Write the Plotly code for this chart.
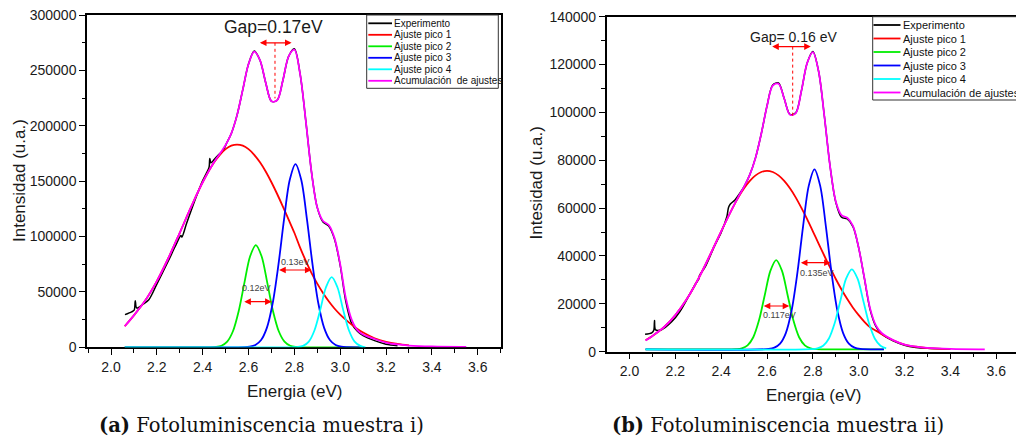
import plotly.graph_objects as go

# ---------------- data: muestra i) ----------------
a_exp_x = [2.061, 2.09, 2.101, 2.106, 2.112, 2.14, 2.165, 2.20, 2.25, 2.28, 2.305, 2.309, 2.33, 2.374,
           2.40, 2.418, 2.428, 2.431, 2.436, 2.45, 2.47, 2.49, 2.505, 2.525, 2.55, 2.575, 2.60, 2.625,
           2.65, 2.675, 2.70, 2.725, 2.75, 2.775, 2.80, 2.825, 2.85, 2.875, 2.90, 2.925, 2.95, 2.975,
           3.00, 3.025, 3.05, 3.075, 3.10, 3.15, 3.20, 3.25]
a_exp_y = [29500, 32000, 33500, 42000, 35500, 39000, 43000, 57000, 78000, 91000, 101000, 99500, 112000, 137000,
           150500, 158000, 162500, 170500, 166500, 169500, 174000, 178000, 184500, 193100, 209600, 232600, 255700, 267500,
           259150, 238900, 222200, 223000, 241100, 262700, 269500, 246800, 204200, 157900, 126100, 113000, 109400, 97800,
           74000, 41000, 21500, 14500, 10500, 6000, 2800, 1500]

a_grid = [2.06, 2.10, 2.15, 2.20, 2.25, 2.30, 2.35, 2.40, 2.45, 2.475, 2.50, 2.525, 2.55, 2.575, 2.60,
          2.625, 2.65, 2.675, 2.70, 2.725, 2.75, 2.775, 2.80, 2.825, 2.85, 2.875, 2.90, 2.925, 2.95,
          2.975, 3.00, 3.025, 3.05, 3.075, 3.10, 3.15, 3.20, 3.25, 3.30, 3.40, 3.55]
a_pico1_y = [19000, 28800, 42400, 59700, 80400, 103400, 127000, 149000, 167000, 173800, 178900, 182000, 183000,
             182000, 178900, 173800, 167000, 158700, 149000, 138400, 127000, 115300, 103400, 90000, 78000, 67000,
             57500, 49000, 41500, 35000, 29500, 24800, 20500, 16600, 13300, 8200, 5000, 3000, 1700, 500, 100]
a_sum_y = [19000, 28800, 42400, 59700, 80400, 103400, 127000, 149000, 167200, 174800, 182600, 193100, 209600,
           232600, 255700, 266900, 259200, 238900, 222200, 223000, 241100, 262700, 268700, 246800, 204200, 157900,
           126100, 114000, 110400, 98800, 75100, 44000, 25000, 15500, 11500, 7500, 4300, 2600, 1600, 700, 300]

a_pico2_x = [2.06, 2.432, 2.457, 2.482, 2.507, 2.532, 2.557, 2.582, 2.607, 2.632, 2.657, 2.682, 2.707,
             2.732, 2.757, 2.782, 2.807, 2.832, 3.10]
a_pico2_y = [0, 0, 320, 1440, 5130, 14500, 32600, 58100, 82200, 92300, 82200, 58100, 32600,
             14500, 5130, 1440, 320, 0, 0]

a_pico3_x = [2.06, 2.58, 2.605, 2.63, 2.655, 2.68, 2.705, 2.73, 2.755, 2.78, 2.805, 2.83, 2.855,
             2.88, 2.905, 2.93, 2.955, 2.98, 3.005, 3.03, 3.10]
a_pico3_y = [0, 115, 530, 2030, 6530, 17500, 39300, 73700, 115500, 151200, 165400, 151200, 115500,
             73700, 39300, 17500, 6530, 2030, 530, 115, 0]

a_pico4_x = [2.06, 2.788, 2.813, 2.838, 2.863, 2.888, 2.913, 2.938, 2.963, 2.988, 3.013, 3.038,
             3.063, 3.088, 3.11]
a_pico4_y = [0, 0, 220, 1250, 5130, 15400, 33800, 54200, 63400, 54200, 33800, 15400, 5130, 1250, 0]

# ---------------- data: muestra ii) ----------------
b_exp_x = [2.068, 2.097, 2.106, 2.109, 2.114, 2.14, 2.184, 2.22, 2.26, 2.29, 2.303, 2.306, 2.33, 2.37,
           2.40, 2.425, 2.432, 2.44, 2.46, 2.48, 2.50, 2.525, 2.55, 2.575, 2.60, 2.625, 2.65, 2.675,
           2.70, 2.725, 2.75, 2.775, 2.80, 2.825, 2.85, 2.875, 2.90, 2.925, 2.95, 2.975, 3.00, 3.025,
           3.05, 3.075, 3.10, 3.15, 3.20, 3.25, 3.30, 3.40]
b_exp_y = [7300, 7900, 9000, 13000, 9100, 9200, 12500, 16800, 23500, 28600, 30500, 32000, 35400, 44000,
           49800, 56500, 60300, 61700, 63400, 66000, 69000, 74000, 81100, 91100, 102700, 111500, 112300, 105800,
           99200, 99800, 109000, 120600, 125500, 117200, 98600, 77600, 62500, 56200, 55500, 52300, 43400, 30500,
           17500, 10600, 7400, 4500, 2700, 1800, 1400, 1100]

b_grid = [2.07, 2.10, 2.15, 2.20, 2.25, 2.30, 2.35, 2.40, 2.45, 2.475, 2.50, 2.525, 2.55, 2.575, 2.60,
          2.625, 2.65, 2.675, 2.70, 2.725, 2.75, 2.775, 2.80, 2.825, 2.85, 2.875, 2.90, 2.925, 2.95,
          2.975, 3.00, 3.025, 3.05, 3.075, 3.10, 3.15, 3.20, 3.25, 3.30, 3.40, 3.55]
b_pico1_y = [4800, 6600, 10200, 15300, 22000, 30400, 40100, 50300, 60100, 64500, 68300, 71400, 73700, 75100,
             75600, 75100, 73700, 71400, 68300, 64500, 60100, 55400, 50300, 45200, 40100, 35200, 30400, 26000,
             22000, 18400, 15300, 12500, 10200, 8800, 7300, 4800, 3000, 2100, 1500, 1150, 1000]
b_sum_y = [4700, 6600, 10200, 15300, 22000, 30400, 40100, 50300, 60100, 64700, 69000, 74000, 81100, 91100,
           102700, 111200, 112000, 105800, 99000, 99600, 109000, 120600, 125200, 117200, 98600, 77600, 62800,
           57100, 56000, 52600, 43400, 30700, 18000, 11000, 7800, 4850, 3000, 2100, 1600, 1200, 1000]

b_pico2_x = [2.07, 2.44, 2.465, 2.49, 2.515, 2.54, 2.565, 2.59, 2.615, 2.64, 2.665, 2.69, 2.715, 2.74,
             2.765, 2.79, 2.815, 2.84, 3.11]
b_pico2_y = [1000, 1000, 1080, 1400, 2640, 6050, 13100, 23600, 33900, 38300, 33900, 23600, 13100, 6050,
             2640, 1400, 1080, 1000, 1000]

b_pico3_x = [2.07, 2.607, 2.632, 2.657, 2.682, 2.707, 2.732, 2.757, 2.782, 2.807, 2.832, 2.857, 2.882,
             2.907, 2.932, 2.957, 2.982, 3.007, 3.11]
b_pico3_y = [1000, 1160, 1675, 3360, 7790, 17100, 32600, 52200, 69300, 76200, 69300, 52200, 32600,
             17100, 7790, 3360, 1675, 1160, 1000]

b_pico4_x = [2.07, 2.795, 2.82, 2.845, 2.87, 2.895, 2.92, 2.945, 2.97, 2.995, 3.02, 3.045, 3.07, 3.095, 3.12]
b_pico4_y = [1000, 1070, 1370, 2470, 5520, 11850, 21300, 30500, 34400, 30500, 21300, 11850, 5520, 2470, 1370]

series_names = ["Experimento", "Ajuste pico 1", "Ajuste pico 2", "Ajuste pico 3", "Ajuste pico 4",
                "Acumulación de ajustes"]
series_colors = ["#000000", "#ff0000", "#00ee00", "#0000ff", "#00ffff", "#ff00ff"]

# ---------------- figure ----------------
W, H = 1016, 439
SANS = "Arial, 'Liberation Sans', sans-serif"


def px(x):
    return x / W


def py(y):
    # vertical page position (pixels from the top) -> paper fraction
    return 1 - (y - 8) / 423


fig = go.Figure()

panels = [
    ("x", "y", [(a_exp_x, a_exp_y), (a_grid[:-2], a_pico1_y[:-2]), (a_pico2_x, a_pico2_y),
                (a_pico3_x, a_pico3_y), (a_pico4_x, a_pico4_y), (a_grid, a_sum_y)]),
    ("x2", "y2", [(b_exp_x, b_exp_y), (b_grid[:-1], b_pico1_y[:-1]), (b_pico2_x, b_pico2_y),
                  (b_pico3_x, b_pico3_y), (b_pico4_x, b_pico4_y), (b_grid, b_sum_y)]),
]
for xa, ya, curves in panels:
    for (cx, cy), name, color in zip(curves, series_names, series_colors):
        fig.add_trace(go.Scatter(
            x=cx, y=cy, name=name, mode="lines", xaxis=xa, yaxis=ya, showlegend=False,
            line=dict(color=color, width=1.5 if name == "Experimento" else 1.8, shape="spline", smoothing=0.9),
            hoverinfo="skip"))

axis_common = dict(showline=True, linecolor="black", linewidth=1.5, ticks="outside", ticklen=6,
                   tickwidth=1.3, tickcolor="black", showgrid=False, zeroline=False,
                   tickfont=dict(family=SANS, size=14, color="#1a1a1a"), layer="below traces")

fig.update_layout(
    width=W, height=H, margin=dict(l=0, r=0, t=0, b=0),
    paper_bgcolor="white", plot_bgcolor="white", showlegend=False,
    xaxis=dict(domain=[px(87), px(501)], range=[1.8953, 3.7016], anchor="y", mirror=True,
               tick0=2.0, dtick=0.2, tickformat=".1f",
               minor=dict(ticks="outside", ticklen=3.5, tickwidth=1.2, tickcolor="black", dtick=0.1),
               **axis_common),
    yaxis=dict(domain=[py(347.3), py(15)], range=[0, 300000], anchor="x", mirror=True,
               dtick=50000, tickformat="d",
               minor=dict(ticks="outside", ticklen=3.5, tickwidth=1.2, tickcolor="black", dtick=25000),
               **axis_common),
    xaxis2=dict(domain=[px(606.7), 1.0], range=[1.9005, 3.6863], anchor="y2", mirror=True,
                tick0=2.0, dtick=0.2, tickformat=".1f",
                minor=dict(ticks="outside", ticklen=3.5, tickwidth=1.2, tickcolor="black", dtick=0.1),
                **axis_common),
    yaxis2=dict(domain=[py(351.7), py(16.7)], range=[0, 140000], anchor="x2", mirror=False,
                dtick=20000, tickformat="d",
                minor=dict(ticks="outside", ticklen=3.5, tickwidth=1.2, tickcolor="black", dtick=10000),
                **axis_common),
)

annotations = []
shapes = []


def text_px(x, y, text, size, family=SANS, color="#1a1a1a", angle=0, xanchor="center"):
    annotations.append(dict(x=px(x), y=py(y), xref="paper", yref="paper", text=text, showarrow=False,
                            xanchor=xanchor, yanchor="middle", textangle=angle,
                            font=dict(family=family, size=size, color=color)))


def double_arrow(x0, x1, y, xr, yr):
    annotations.append(dict(x=x1, y=y, ax=x0, ay=y, xref=xr, yref=yr, axref=xr, ayref=yr, text="",
                            showarrow=True, arrowhead=2, arrowside="end+start", arrowsize=1.1,
                            arrowwidth=1.2, arrowcolor="#ff0000", standoff=0, startstandoff=0))


def dotted(x, y0, y1, xr, yr):
    shapes.append(dict(type="line", xref=xr, yref=yr, x0=x, x1=x, y0=y0, y1=y1,
                       line=dict(color="#ff0000", width=1, dash="dot")))


# axis titles
text_px(294, 391, "Energia (eV)", 17)
text_px(813, 395, "Energia (eV)", 17)
text_px(19, 181, "Intensidad (u.a.)", 17, angle=-90)
text_px(535.5, 183, "Intesidad (u.a.)", 17, angle=-90)

# peak separation and widths, muestra i)
text_px(273.3, 27, "Gap=0.17eV", 17.5)
double_arrow(2.643, 2.788, 274900, "x", "y")
dotted(2.7155, 274900, 224700, "x", "y")
double_arrow(2.575, 2.701, 41200, "x", "y")
text_px(256.3, 287.5, "0.12eV", 9, color="#444444")
double_arrow(2.727, 2.875, 69800, "x", "y")
text_px(295.5, 261.7, "0.13eV", 9, color="#444444")

# peak separation and widths, muestra ii)
text_px(793.7, 36.7, "Gap= 0.16 eV", 14)
double_arrow(2.616, 2.791, 127500, "x2", "y2")
dotted(2.712, 127500, 97500, "x2", "y2")
double_arrow(2.741, 2.878, 37200, "x2", "y2")
text_px(817, 272.7, "0.135eV", 9, color="#444444")
double_arrow(2.579, 2.697, 19100, "x2", "y2")
text_px(779.5, 315, "0.117eV", 9, color="#444444")


# legends
def legend_box(x0, x1, y0, y1, rows, line_x0, line_x1, text_x, size, labels):
    shapes.append(dict(type="rect", xref="paper", yref="paper", x0=px(x0), x1=px(x1), y0=py(y1), y1=py(y0),
                       line=dict(color="#333333", width=1), fillcolor="rgba(255,255,255,0)"))
    for yy, label, color in zip(rows, labels, series_colors):
        shapes.append(dict(type="line", xref="paper", yref="paper", x0=px(line_x0), x1=px(line_x1),
                           y0=py(yy), y1=py(yy), line=dict(color=color, width=1.8)))
        text_px(text_x, yy, label, size, color="#111111", xanchor="left")


labels_a = series_names[:5] + ["Acumulación\u00a0 de ajustes"]
legend_box(366.7, 498.3, 15, 88.3, [23.3, 34.8, 46.3, 57.8, 69.3, 80.8], 368.3, 392, 391.5, 10, labels_a)
legend_box(872.7, 1030, 16.7, 100, [25, 38.5, 52, 65.5, 79, 92.5], 873.5, 900.5, 900.5, 11, series_names)

# captions
SERIF = "'DejaVu Serif', 'Liberation Serif', serif"
text_px(261.5, 425, "<b>(a)</b> Fotoluminiscencia muestra i)", 19.5, family=SERIF, color="#111111")
text_px(778, 425, "<b>(b)</b> Fotoluminiscencia muestra ii)", 19.5, family=SERIF, color="#111111")

fig.update_layout(annotations=annotations, shapes=shapes)
fig.write_html("out.html")
